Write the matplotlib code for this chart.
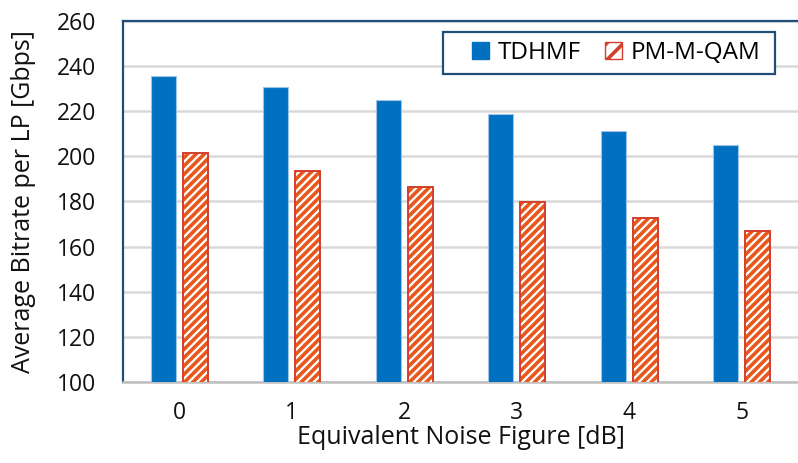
import numpy as np
import matplotlib
matplotlib.use("Agg")
import matplotlib.pyplot as plt
from matplotlib.patches import Patch, Rectangle

# --- DATA ---
noise_figure = [0, 1, 2, 3, 4, 5]
tdhmf = [235.7, 230.8, 225.1, 218.6, 211.4, 204.8]
pm_mqam = [201.3, 193.4, 186.2, 179.8, 172.7, 166.8]
y_ticks = [100, 120, 140, 160, 180, 200, 220, 240, 260]

plt.rcParams["font.family"] = ["Open Sans", "DejaVu Sans"]
plt.rcParams["hatch.linewidth"] = 2.6
plt.rcParams["hatch.color"] = "#e8581c"

blue = "#0070c0"
frame = "#1f4e79"

fig = plt.figure(figsize=(7.98, 4.63), dpi=100)
ax = fig.add_axes([0.154, 0.175, 0.846, 0.78])

x = np.arange(len(noise_figure))
off = 0.142
w = 0.222

ax.bar(x - off, tdhmf, w, color=blue, edgecolor="#9dc3e6",
       linewidth=0.8, zorder=3)
ax.bar(x + off, pm_mqam, w, color="white", edgecolor="#e8581c",
       linewidth=0, hatch="////", zorder=3)
ax.bar(x + off, pm_mqam, w, color="none", edgecolor="#d33f2c",
       linewidth=1.4, zorder=4)

ax.set_ylim(100, 260)
ax.set_xlim(-0.5, 5.5)
ax.set_yticks(y_ticks)
ax.set_xticks(x)
ax.set_xticklabels([str(v) for v in noise_figure])
ax.tick_params(axis="both", length=0, labelsize=16.5, colors="#111111")
ax.tick_params(axis="y", pad=19)
ax.tick_params(axis="x", pad=14)

ax.grid(axis="y", color="#d9d9d9", linewidth=1.8, zorder=0)
ax.set_axisbelow(True)

ax.spines["right"].set_visible(False)
ax.spines["top"].set_color(frame)
ax.spines["top"].set_linewidth(1.6)
ax.spines["left"].set_color(frame)
ax.spines["left"].set_linewidth(1.6)
ax.spines["bottom"].set_color("#bfbfbf")
ax.spines["bottom"].set_linewidth(1.8)

ax.set_xlabel("Equivalent Noise Figure [dB]", fontsize=18, labelpad=0, color="#111111")
ax.set_ylabel("Average Bitrate per LP [Gbps]", fontsize=18, labelpad=15, color="#111111")

# legend box drawn separately (Excel style padding)
ax.add_patch(Rectangle((0.474, 0.853), 0.492, 0.117, transform=ax.transAxes,
                       facecolor="white", edgecolor=frame, linewidth=1.6,
                       zorder=5, clip_on=False))
handles = [Patch(facecolor=blue, edgecolor=blue, label="TDHMF"),
           Patch(facecolor="white", edgecolor="#d33f2c", hatch="//", label="PM-M-QAM")]
leg = ax.legend(handles=handles, loc="center right", bbox_to_anchor=(0.945, 0.911),
                ncol=2, fontsize=17.5, frameon=False,
                handlelength=0.68, handleheight=0.68, handletextpad=0.38,
                columnspacing=1.0, borderpad=0, borderaxespad=0)
leg.set_zorder(6)

fig.savefig("out.png", dpi=100)
